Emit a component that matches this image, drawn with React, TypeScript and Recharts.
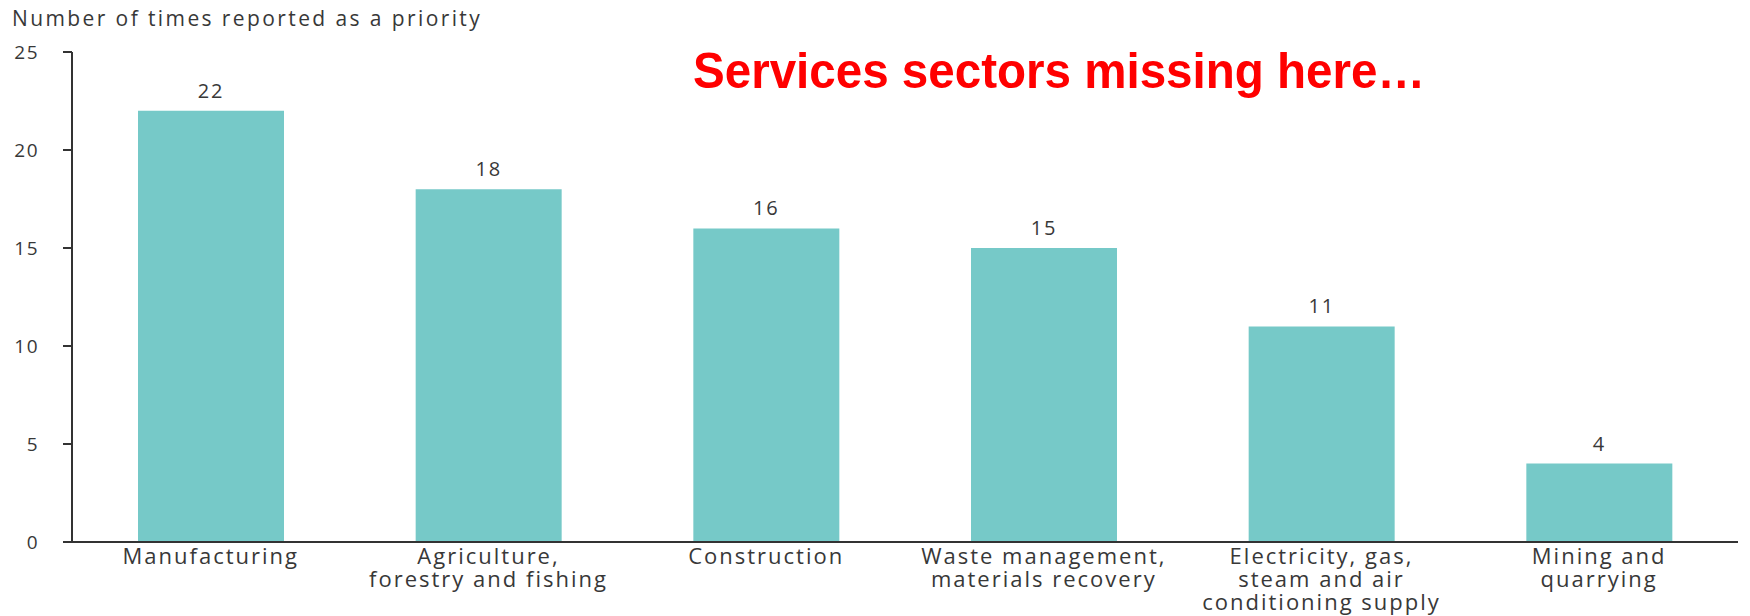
import React from "react";
import { BarChart, Bar, XAxis, YAxis, LabelList } from "recharts";

// Sectors reported as a priority (count of mentions)
const SECTORS = [
  "Manufacturing",
  "Agriculture,\nforestry and fishing",
  "Construction",
  "Waste management,\nmaterials recovery",
  "Electricity, gas,\nsteam and air\nconditioning supply",
  "Mining and\nquarrying",
];
const TIMES_REPORTED = [22, 18, 16, 15, 11, 4];
const Y_TICKS = [0, 5, 10, 15, 20, 25];
const BOUNDARY_TICKS = [0, 1, 2, 3, 4, 5, 6];

const TITLE = "Number of times reported as a priority";
const NOTE = "Services sectors missing here…";

const data = SECTORS.map((sector, i) => ({ sector, value: TIMES_REPORTED[i] }));

const FONT = "'Open Sans', sans-serif";
const TEXT = "#383838";
const AXIS = "#333333";
const TEAL = "#76C9C8";

function SectorTick(props: any) {
  const { x, y, payload } = props;
  const lines = String(payload.value).split("\n");
  return (
    <text
      x={x}
      y={y}
      textAnchor="middle"
      fill={TEXT}
      fontFamily={FONT}
      fontSize={22}
      letterSpacing={2}
    >
      {lines.map((line, i) => (
        <tspan key={i} x={x} dy={i === 0 ? 14 : 23}>
          {line}
        </tspan>
      ))}
    </text>
  );
}

export default function App() {
  return (
    <div style={{ position: "absolute", left: 0, top: 0, background: "#fff" }}>
      <BarChart
        width={1750}
        height={616}
        data={data}
        margin={{ top: 52, right: 12, bottom: 0, left: 0 }}
      >
        {/* boundary ticks between categories */}
        <XAxis
          xAxisId="edges"
          type="number"
          domain={[0, 6]}
          ticks={BOUNDARY_TICKS}
          height={0}
          axisLine={false}
          tick={false}
          tickSize={7}
          tickLine={{ stroke: AXIS, strokeWidth: 2 }}
          allowDataOverflow
        />
        <XAxis
          xAxisId="cat"
          dataKey="sector"
          height={74}
          interval={0}
          tickLine={false}
          axisLine={{ stroke: AXIS, strokeWidth: 2 }}
          tick={<SectorTick />}
        />
        <YAxis
          width={72}
          domain={[0, 25]}
          ticks={Y_TICKS}
          interval={0}
          tickSize={9}
          tickMargin={24}
          axisLine={{ stroke: AXIS, strokeWidth: 2 }}
          tickLine={{ stroke: AXIS, strokeWidth: 2 }}
          tick={{ fill: TEXT, fontSize: 19, fontFamily: FONT, letterSpacing: 1.5 }}
        />
        <Bar
          xAxisId="cat"
          dataKey="value"
          fill={TEAL}
          barSize={146}
          isAnimationActive={false}
        >
          <LabelList
            dataKey="value"
            position="top"
            offset={13}
            fill={TEXT}
            fontSize={20}
            fontFamily={FONT}
            letterSpacing={1.8}
          />
        </Bar>
        <text
          x={12}
          y={26}
          fill={TEXT}
          fontFamily={FONT}
          fontSize={21}
          letterSpacing={2.4}
        >
          {TITLE}
        </text>
        <text
          x={693}
          y={88}
          fill="#FF0000"
          fontFamily="'Liberation Sans', Arial, sans-serif"
          fontWeight="bold"
          fontSize={50}
          textLength={732}
          lengthAdjust="spacingAndGlyphs"
        >
          {NOTE}
        </text>
      </BarChart>
    </div>
  );
}
